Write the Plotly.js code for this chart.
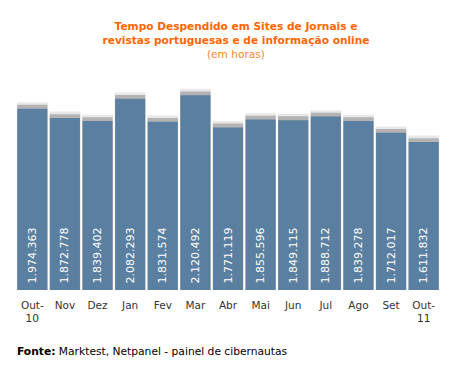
<!DOCTYPE html>
<html>
<head>
<meta charset="utf-8">
<script src="https://cdn.plot.ly/plotly-3.0.1.min.js"></script>
<style>html,body{margin:0;padding:0;background:#fff;}#chart{width:456px;height:373px;}</style>
</head>
<body>
<div id="chart"></div>
<script>
const categories = ["Out-10","Nov","Dez","Jan","Fev","Mar","Abr","Mai","Jun","Jul","Ago","Set","Out-11"];
const tickLabels = ["Out-<br>10","Nov","Dez","Jan","Fev","Mar","Abr","Mai","Jun","Jul","Ago","Set","Out-<br>11"];
const hours = [1974.363,1872.778,1839.402,2082.293,1831.574,2120.492,1771.119,1855.596,1849.115,1888.712,1839.278,1712.017,1611.832];
const valueLabels = ["1.974.363","1.872.778","1.839.402","2.082.293","1.831.574","2.120.492","1.771.119","1.855.596","1.849.115","1.888.712","1.839.278","1.712.017","1.611.832"];

const shadowOuter = {
  type:'bar', x:categories, y:hours.map(v=>v+70), width:0.95,
  marker:{color:'#e8e8e8'}, hoverinfo:'skip', showlegend:false
};
const shadowInner = {
  type:'bar', x:categories, y:hours.map(v=>v+42), width:0.93,
  marker:{color:'#b3b3b3'}, hoverinfo:'skip', showlegend:false
};
const main = {
  type:'bar', x:categories, y:hours, width:0.92,
  marker:{color:'#5a7fa0'},
  text:valueLabels.map(s=>'\u00a0'+s), textposition:'inside', insidetextanchor:'start', textangle:-90,
  textfont:{family:'DejaVu Sans', size:11, color:'#ffffff'},
  constraintext:'none', cliponaxis:false, showlegend:false
};

const layout = {
  width:456, height:373,
  margin:{l:16, r:16, t:88, b:83},
  paper_bgcolor:'#ffffff', plot_bgcolor:'#ffffff',
  barmode:'overlay',
  showlegend:false,
  title:{
    text:"<b>Tempo Despendido em Sites de Jornais e<br>revistas portuguesas e de informação online</b><br><span style='color:#ff8533'>(em horas)</span>",
    font:{family:'DejaVu Sans', size:10.6, color:'#ff6600'},
    xref:'container', x:236/456, xanchor:'center',
    yref:'container', y:1-30/373, yanchor:'top'
  },
  xaxis:{
    type:'category', tickmode:'array', tickvals:categories, ticktext:tickLabels,
    range:[-0.5,12.5], showgrid:false, zeroline:false, showline:false, ticks:'',
    ticklabelstandoff:7,
    tickfont:{family:'DejaVu Sans', size:10.5, color:'#333333'}, tickangle:0
  },
  yaxis:{range:[0,2200], visible:false, showgrid:false, zeroline:false},
  annotations:[{
    xref:'paper', yref:'paper', x:-1/424, y:(290-351)/202, xanchor:'left', yanchor:'middle',
    showarrow:false, align:'left',
    text:"<b>Fonte:</b> Marktest, Netpanel - painel de cibernautas",
    font:{family:'DejaVu Sans', size:10.7, color:'#000000'}
  }]
};

Plotly.newPlot('chart', [shadowOuter, shadowInner, main], layout, {displayModeBar:false, staticPlot:true});
</script>
</body>
</html>
